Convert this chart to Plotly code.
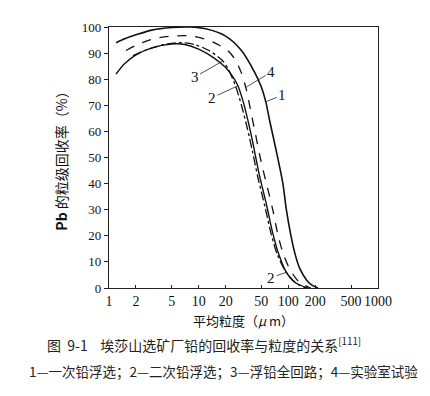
import numpy as np
import plotly.graph_objects as go

# ---- data ----
c1_x = [1.2, 1.5, 2, 3, 5, 8, 12, 20, 30, 42, 50, 56, 62, 75, 87, 95, 107, 120, 134, 160, 185, 214]
c1_y = [94, 95.5, 97, 98.8, 99.8, 100, 99.3, 96.5, 91, 82.7, 77, 71.4, 64, 51, 40, 30, 20, 12.5, 7.5, 3, 1, 0]

c4_x = [1.55, 2, 3, 5, 8, 12, 17, 21, 25, 29.5, 34, 38, 43, 50, 58, 67, 77, 88, 103, 130, 178]
c4_y = [91, 93, 95.3, 96.5, 96.6, 95.3, 93, 91, 88, 83, 76, 68, 59, 48, 39, 30, 20, 13, 7.5, 2.5, 0]

c3_x = [1.85, 2.5, 4, 6, 9, 13, 18.6, 22, 26, 30, 35, 40, 46, 55, 64, 75, 91, 120, 158]
c3_y = [89, 91, 93.2, 94, 93.3, 91, 87, 83, 77, 70, 61, 52, 42, 31, 21, 13, 7, 2, 0]

c2_x = [1.2, 1.5, 2, 3, 5, 7, 10, 15, 20, 24, 27.4, 31, 35, 40, 47, 57, 67, 78, 95, 120, 165]
c2_y = [82, 86, 89.3, 92, 93.5, 93.3, 91.5, 88, 84.5, 81, 77.5, 72, 65, 56, 44, 32, 21, 13, 6, 2, 0]

x_ticks = [1, 2, 5, 10, 20, 50, 100, 200, 500, 1000]
y_ticks = list(range(0, 101, 10))

# curve labels: text, label position (um, %), leader end (um, %)
labels = [
    ("1", 85.5, 73.9, 56.7, 71.4),
    ("4", 64.4, 82.7, 34.0, 77.0),
    ("3", 9.0, 80.8, 18.7, 87.0),
    ("2", 14.1, 72.9, 27.4, 77.5),
    ("2", 64.4, 4.0, 94.8, 6.0),
]

serif = "Liberation Serif, Noto Sans CJK SC, serif"
cjk = "Noto Sans CJK SC, Liberation Serif, serif"

fig = go.Figure()
styles = [
    (c1_x, c1_y, "solid", 1.6),
    (c4_x, c4_y, "dash", 1.3),
    (c3_x, c3_y, "dashdot", 1.3),
    (c2_x, c2_y, "solid", 1.4),
]
for xs, ys, dash, w in styles:
    fig.add_trace(go.Scatter(
        x=xs, y=ys, mode="lines",
        line=dict(color="#111111", width=w, dash=dash, shape="spline", smoothing=0.8),
        showlegend=False, hoverinfo="skip"))

for t, lx, ly, hx, hy in labels:
    fig.add_annotation(
        x=np.log10(hx), y=hy, ax=np.log10(lx), ay=ly,
        xref="x", yref="y", axref="x", ayref="y",
        text=t, showarrow=True, arrowhead=0, arrowwidth=0.8,
        arrowcolor="#222222", standoff=0, startstandoff=0,
        font=dict(family=serif, size=15, color="#111111"))

fig.update_xaxes(
    type="log", range=[0, 3],
    tickvals=x_ticks, ticktext=[str(v) for v in x_ticks],
    ticks="inside", ticklen=3, tickcolor="#222222",
    showline=True, linecolor="#222222", linewidth=1.2, mirror=True,
    showgrid=False, zeroline=False, ticklabelstandoff=0,
    tickfont=dict(family=serif, size=14, color="#111111"),
    title=dict(text="平均粒度（<i>μ</i> m）", font=dict(family=cjk, size=13, color="#111111"), standoff=8),
)
fig.update_yaxes(
    range=[0, 100], tickvals=y_ticks,
    ticks="outside", ticklen=4, tickcolor="#222222",
    showline=True, linecolor="#222222", linewidth=1.2, mirror=True,
    showgrid=False, zeroline=False,
    tickfont=dict(family=serif, size=13, color="#111111"),
    title=dict(text="<b>Pb</b> 的粒级回收率（%）", font=dict(family=cjk, size=14, color="#111111"), standoff=10),
)

fig.add_annotation(
    x=0.5, y=-0.215, xref="paper", yref="paper", showarrow=False,
    text="图  9-1    埃莎山选矿厂铅的回收率与粒度的关系<sup>[111]</sup>",
    font=dict(family=cjk, size=14, color="#222222"), xanchor="center", yanchor="middle", xshift=-40)
fig.add_annotation(
    x=0.5, y=-0.318, xref="paper", yref="paper", showarrow=False,
    text="1—一次铅浮选；2—二次铅浮选；3—浮铅全回路；4—实验室试验",
    font=dict(family=cjk, size=13.5, color="#222222"), xanchor="center", yanchor="middle", xshift=-20)

fig.update_layout(
    width=430, height=396,
    margin=dict(l=101, r=60, t=14, b=116),
    paper_bgcolor="white", plot_bgcolor="white",
)

fig.write_html("out.html")
